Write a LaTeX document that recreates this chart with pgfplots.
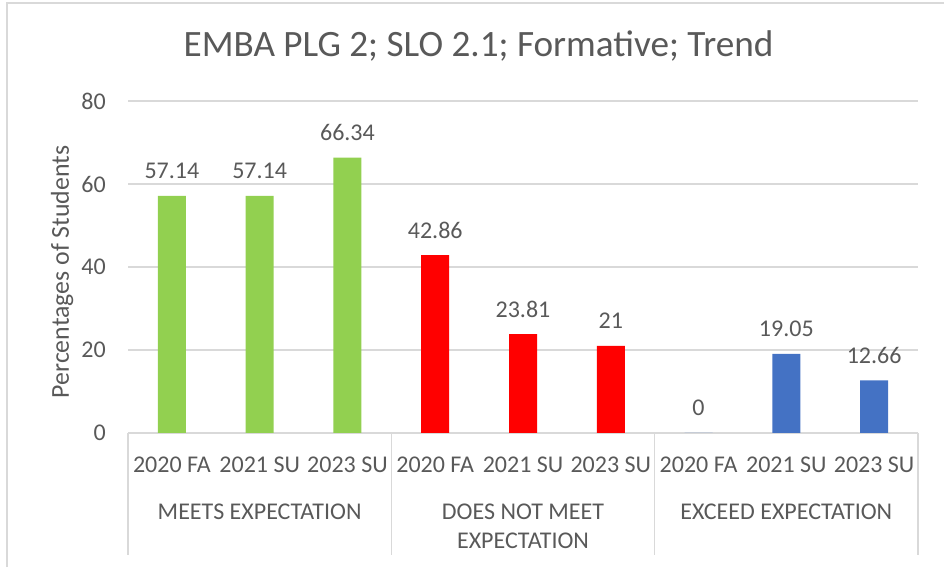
\documentclass[border=0pt]{standalone}
\usepackage{fontspec}
\setmainfont{Carlito}
\usepackage{pgfplots}
\pgfplotsset{compat=1.18}
\definecolor{txt}{HTML}{595959}
\definecolor{grd}{HTML}{D9D9D9}
\definecolor{cgreen}{HTML}{92D050}
\definecolor{cred}{HTML}{FF0000}
\definecolor{cblue}{HTML}{4472C4}
\newcommand{\lab}{\fontsize{24}{29}\selectfont}
\begin{document}
\begin{tikzpicture}
\path[use as bounding box] (0,0) rectangle (944pt,567pt);
\draw[grd, line width=1.5pt] (7pt,0) -- (7pt,564pt) -- (944pt,564pt);
\begin{axis}[
 at={(128pt,134pt)}, anchor=south west,
 scale only axis, width=790pt, height=332pt,
 xmin=-0.5, xmax=8.5, ymin=0, ymax=80,
 ytick={0,20,...,80},
 xtick={0,...,8},
 xticklabels={2020 FA,2021 SU,2023 SU,2020 FA,2021 SU,2023 SU,2020 FA,2021 SU,2023 SU},
 ymajorgrids, grid style={grd, line width=1.5pt},
 axis line style={draw=none},
 major tick length=0pt,
 tick label style={font=\lab, text=txt},
 yticklabel style={anchor=east, inner sep=0pt, xshift=-22pt},
 xticklabel style={anchor=base, inner sep=0pt, yshift=-40pt},
 /pgf/number format/assume math mode=true,
 ybar, bar width=28pt,
 nodes near coords,
 every node near coord/.append style={font=\lab, text=txt, anchor=base, inner sep=0pt, yshift=17pt},
 clip=false,
 title={EMBA PLG 2; SLO 2.1; Formative; Trend},
 title style={at={(axis description cs:0.4437,1.117)}, anchor=base, font=\fontsize{37.2}{44}\selectfont, text=txt, inner sep=0pt},
 ylabel={Percentages of Students},
 ylabel style={at={(axis description cs:-0.0747,0.485)}, anchor=base, font=\fontsize{25.8}{30}\selectfont, text=txt, inner sep=0pt},
]
\addplot[fill=cgreen, draw=none, bar shift=0pt] coordinates {(0,57.14) (1,57.14) (2,66.34)};
\addplot[fill=cred, draw=none, bar shift=0pt] coordinates {(3,42.86) (4,23.81) (5,21)};
\addplot[fill=cblue, draw=none, bar shift=0pt] coordinates {(6,0) (7,19.05) (8,12.66)};
\draw[grd, line width=1.5pt] (axis cs:-0.5,0) -- ++(0pt,-122pt);
\draw[grd, line width=1.5pt] (axis cs:2.5,0) -- ++(0pt,-122pt);
\draw[grd, line width=1.5pt] (axis cs:5.5,0) -- ++(0pt,-122pt);
\draw[grd, line width=1.5pt] (axis cs:8.5,0) -- ++(0pt,-122pt);
\node[anchor=base, yshift=-86pt, font=\lab, text=txt, inner sep=0pt] at (axis cs:1,0) {MEETS EXPECTATION};
\node[anchor=base, yshift=-86pt, font=\lab, text=txt, inner sep=0pt] at (axis cs:4,0) {DOES NOT MEET};
\node[anchor=base, yshift=-115pt, font=\lab, text=txt, inner sep=0pt] at (axis cs:4,0) {EXPECTATION};
\node[anchor=base, yshift=-86pt, font=\lab, text=txt, inner sep=0pt] at (axis cs:7,0) {EXCEED EXPECTATION};
\end{axis}
\end{tikzpicture}
\end{document}
